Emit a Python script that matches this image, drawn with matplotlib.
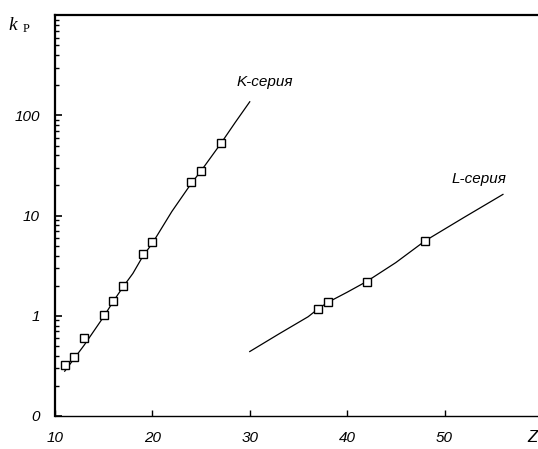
import numpy as np
import matplotlib
matplotlib.use("Agg")
import matplotlib.pyplot as plt
from matplotlib.ticker import FixedLocator, LogLocator, NullFormatter

# Измеренные точки K-серии
k_z = [11, 12, 13, 15, 16, 17, 19, 20, 24, 25, 27]
k_val = [0.32, 0.39, 0.60, 1.01, 1.42, 1.98, 4.1, 5.4, 21.5, 28.1, 53.4]

# Сглаживающая кривая K-серии
k_line_z = [11, 13, 15, 16, 17, 18, 19, 20, 22, 24, 25, 27, 28.5, 30]
k_line_val = [0.28, 0.51, 0.98, 1.40, 1.95, 2.65, 3.9, 5.3, 11.0, 21.0, 28.0, 52.0, 85.0, 137.0]

# Измеренные точки L-серии
l_z = [37, 38, 42, 48]
l_val = [1.18, 1.36, 2.17, 5.58]

# Сглаживающая кривая L-серии
l_line_z = [30, 33, 36, 37, 38, 40, 42, 45, 48, 52, 56]
l_line_val = [0.44, 0.66, 0.98, 1.17, 1.36, 1.72, 2.2, 3.4, 5.6, 9.6, 16.3]

y_ticks = [0.1, 1, 10, 100, 1000]
y_tick_labels = ["0", "1", "10", "100", ""]
x_ticks = [10, 20, 30, 40, 50]

fig = plt.figure(figsize=(5.38, 4.49), dpi=100)
ax = fig.add_axes([0.1022, 0.0735, 0.8978, 0.8924])

ax.plot(k_line_z, k_line_val, color="black", lw=0.9)
ax.plot(l_line_z, l_line_val, color="black", lw=0.9)
ax.plot(k_z, k_val, "s", ms=6, mfc="white", mec="black", mew=1.0, ls="none")
ax.plot(l_z, l_val, "s", ms=6, mfc="white", mec="black", mew=1.0, ls="none")

ax.set_yscale("log")
ax.set_ylim(0.1, 1000)
ax.set_xlim(10, 59.6)

ax.yaxis.set_major_locator(FixedLocator(y_ticks))
ax.set_yticklabels(y_tick_labels)
ax.yaxis.set_minor_locator(LogLocator(base=10, subs=np.arange(2, 10)))
ax.yaxis.set_minor_formatter(NullFormatter())
ax.set_xticks(x_ticks)
ax.set_xticklabels([str(v) for v in x_ticks])

ax.tick_params(axis="y", which="major", direction="in", length=5, width=1.2,
               pad=11, labelsize=11)
ax.tick_params(axis="y", which="minor", direction="in", length=3, width=1.0)
ax.tick_params(axis="x", which="major", direction="in", length=4, width=1.0,
               pad=11, labelsize=11)
for lab in ax.get_xticklabels() + ax.get_yticklabels():
    lab.set_fontstyle("italic")
    lab.set_family("Liberation Sans")

ax.spines["right"].set_visible(False)
ax.spines["top"].set_linewidth(1.6)
ax.spines["left"].set_linewidth(1.6)
ax.spines["bottom"].set_linewidth(1.0)

# Подписи серий
ax.text(31.5, 215, "K-серия", fontsize=11, style="italic", family="Liberation Sans",
        ha="center", va="center")
ax.text(53.5, 23, "L-серия", fontsize=11, style="italic", family="Liberation Sans",
        ha="center", va="center")

# Подписи осей
fig.text(537 / 538, 1 - 438 / 449, "Z", fontsize=12, style="italic",
         family="Liberation Sans", ha="right", va="center")
fig.text(8 / 538, 1 - 25 / 449, "k", fontsize=14, style="italic",
         family="Liberation Serif", ha="left", va="center")
fig.text(23 / 538, 1 - 29 / 449, "P", fontsize=9,
         family="Liberation Serif", ha="left", va="center")

fig.savefig("out.png", dpi=100)
